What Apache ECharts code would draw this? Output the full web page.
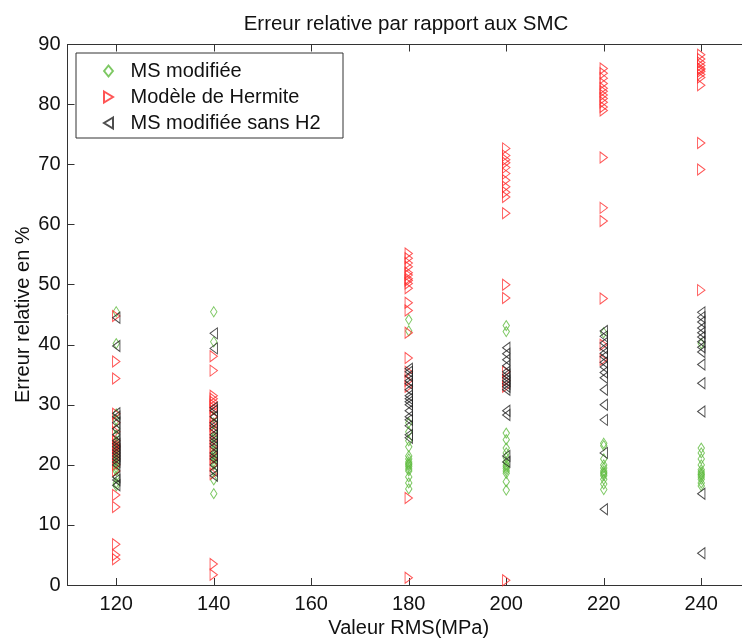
<!DOCTYPE html>
<html>
<head>
<meta charset="utf-8">
<script src="https://cdn.jsdelivr.net/npm/echarts@6/dist/echarts.min.js"></script>
<style>
html,body{margin:0;padding:0;background:#fff;}
#chart{width:742px;height:639px;}
</style>
</head>
<body>
<div id="chart"></div>
<script>
// Categories (x positions, MPa)
const xCategories = [120, 140, 180, 200, 220, 240];
const xTickLabels = [120, 140, 160, 180, 200, 220, 240];
const yTickLabels = [0, 10, 20, 30, 40, 50, 60, 70, 80, 90];

const seriesNames = ['MS modifiée', 'Modèle de Hermite', 'MS modifiée sans H2'];

// MS modifiée (green diamonds), one list per category
const msModifiee = [
  [45.5, 40.2, 28.5, 27.5, 26, 25, 24, 23.5, 23, 22.5, 22, 21.5, 21, 20.5, 20, 19.5, 19, 18, 17, 16.5],
  [45.5, 40.5, 28, 27, 25.5, 24.5, 23.5, 22.5, 22, 21.5, 21, 20.5, 20, 19, 17.5, 15.2],
  [44.2, 42.3, 27, 25.5, 24, 23, 21.5, 21, 20.5, 20.2, 20, 19.7, 19.3, 19, 18, 17, 16],
  [43.2, 42.2, 25.3, 24.2, 22.8, 22, 21.2, 20.5, 20, 19.7, 19.4, 19, 18.6, 17.2, 15.8],
  [42, 23.6, 23.2, 21, 20, 19.5, 19, 18.7, 18.5, 18.2, 17.6, 16.8, 15.9],
  [40.2, 22.8, 22, 21, 20, 19.2, 18.8, 18.5, 18.3, 18, 17.6, 17, 16.5]
];

// Modèle de Hermite (red right triangles)
const hermite = [
  [44.8, 37.2, 34.4, 28.5, 27, 25.5, 24, 23.5, 23.2, 23, 22.8, 22.5, 22, 21.5, 21, 20, 19, 15, 13, 6.8, 5, 4.3],
  [38.1, 35.7, 31.5, 31, 30.5, 30, 29.5, 29, 28, 27, 26.5, 26, 25, 24, 23, 22, 21, 20, 18.5, 3.5, 1.7],
  [55.2, 54.4, 53.6, 53, 52, 51.6, 51, 50.7, 50.2, 49.4, 47, 45.7, 42, 37.8, 35.5, 34, 33, 14.5, 1.2],
  [72.7, 71.5, 70.8, 70.3, 69.5, 68.5, 67.4, 66.3, 65.4, 64.6, 61.9, 50, 47.8, 35.5, 34, 33, 0.8],
  [86, 85.2, 84.4, 83.5, 82.7, 82.2, 81.6, 81, 80.4, 79.6, 79, 71.2, 62.8, 60.6, 47.7, 40, 37.5],
  [88.3, 87.6, 87, 86.5, 86, 85.8, 85.5, 85, 84.5, 83.2, 73.6, 69.2, 49.1]
];

// MS modifiée sans H2 (black left triangles)
const sansH2 = [
  [44.5, 39.8, 28.6, 28, 27, 26, 25, 24, 23.5, 23, 22.5, 22, 21.5, 21, 20.5, 20, 18, 17.5, 16.6],
  [41.9, 39.4, 29.5, 29, 28, 27, 26.5, 26, 25, 24.5, 24, 23.5, 23, 22, 21.5, 21, 20, 19, 18.2],
  [36, 35.5, 34.8, 34, 33.5, 32.5, 31.5, 31, 30.5, 30, 29, 28, 27.5, 26.5, 25, 24.5],
  [39.5, 38.5, 37.5, 36.5, 35.5, 35, 34.5, 34, 33.5, 33, 32.5, 29, 28.3, 21.5, 20.5],
  [42.3, 41.4, 40.3, 39.4, 38.6, 38, 37.1, 36.3, 35.4, 34.5, 32.5, 30, 27.5, 22, 12.6],
  [45.4, 44.6, 43.8, 42.8, 42, 41.3, 40.5, 39.6, 38.8, 36.7, 33.6, 28.9, 15.2, 5.3]
];

function toPoints(groups) {
  const out = [];
  groups.forEach((vals, i) => vals.forEach(v => out.push([xCategories[i], v])));
  return out;
}

const FONT = 'Liberation Sans, Arial, sans-serif';
const AX = '#333';
const symDiamond = 'path://M4,0L8,5L4,10L0,5Z';
const symRight = 'path://M0,0L9,5.5L0,11Z';
const symLeft = 'path://M9,0L0,5.5L9,11Z';

function mkSeries(name, data, sym, size, color) {
  return {
    name: name, type: 'scatter', data: toPoints(data),
    symbol: sym, symbolSize: size, symbolKeepAspect: true,
    itemStyle: { color: 'rgba(255,255,255,0)', borderColor: color, borderWidth: 1 },
    silent: true, z: 3
  };
}

const chart = echarts.init(document.getElementById('chart'), null, { renderer: 'canvas' });
chart.setOption({
  animation: false,
  backgroundColor: '#fff',
  title: {
    text: 'Erreur relative par rapport aux SMC',
    left: 401, top: 9, textAlign: 'center',
    textStyle: { fontFamily: FONT, fontSize: 20.5, fontWeight: 'normal', color: '#111' }
  },
  grid: { left: 67.5, right: -8, top: 44.5, bottom: 54, containLabel: false, outerBoundsMode: 'none' },
  graphic: [{
    type: 'rect', shape: { x: 76, y: 53, width: 267, height: 85 },
    style: { fill: '#fff', stroke: AX, lineWidth: 1 }, z: 10
  }],
  legend: {
    orient: 'vertical', left: 76, top: 53, padding: [8, 8, 6, 27],
    itemWidth: 34, itemHeight: 11, itemGap: 6, z: 11,
    textStyle: { fontFamily: FONT, fontSize: 20, color: '#111', lineHeight: 20 },
    data: seriesNames
  },
  xAxis: [{
    type: 'value', min: 110, max: 250, position: 'bottom',
    name: 'Valeur RMS(MPa)', nameLocation: 'middle', nameGap: 32,
    nameTextStyle: { fontFamily: FONT, fontSize: 20, color: '#111' },
    axisLine: { show: true, lineStyle: { color: AX, width: 1 } },
    axisTick: { show: true, inside: true, length: 7, customValues: xTickLabels, lineStyle: { color: AX } },
    axisLabel: { show: true, customValues: xTickLabels, margin: 9, fontFamily: FONT, fontSize: 20, color: '#111' },
    splitLine: { show: false }
  }, {
    type: 'value', min: 110, max: 250, position: 'top',
    axisLine: { show: true, lineStyle: { color: AX, width: 1 } },
    axisTick: { show: true, inside: true, length: 7, customValues: xTickLabels, lineStyle: { color: AX } },
    axisLabel: { show: false },
    splitLine: { show: false }
  }],
  yAxis: [{
    type: 'value', min: 0, max: 90, interval: 10,
    name: 'Erreur relative en %', nameLocation: 'middle', nameGap: 34, nameMoveOverlap: false,
    nameTextStyle: { fontFamily: FONT, fontSize: 20, color: '#111' },
    axisLine: { show: true, lineStyle: { color: AX, width: 1 } },
    axisTick: { show: true, inside: true, length: 7, lineStyle: { color: AX } },
    axisLabel: { show: true, margin: 7, fontFamily: FONT, fontSize: 20, color: '#111' },
    splitLine: { show: false }
  }],
  series: [
    mkSeries(seriesNames[0], msModifiee, symDiamond, [8, 10], '#5cba3c'),
    mkSeries(seriesNames[1], hermite, symRight, [9, 11], '#ff2a2a'),
    mkSeries(seriesNames[2], sansH2, symLeft, [9, 11], '#222222')
  ]
});
</script>
</body>
</html>
